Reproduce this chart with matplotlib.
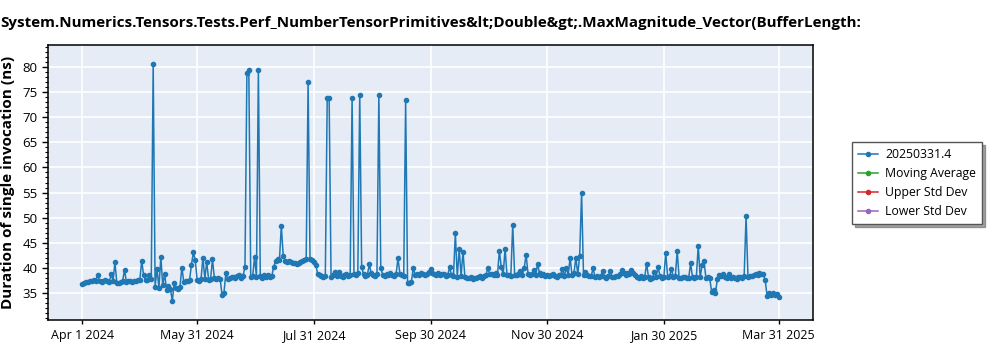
import pandas as pd
import numpy as np
import matplotlib
matplotlib.use("Agg")
import matplotlib.pyplot as plt
from matplotlib.ticker import MultipleLocator

# =====================================
# DATA (one value per day)
# =====================================

start_date = "2024-04-01"
series_label = "20250331.4"

durations = [
    36.7, 36.9, 37.1, 37.2, 37.4, 37.3, 37.5, 37.4, 38.6, 37.3,
    37.2, 37.4, 37.6, 37.3, 37.1, 38.7, 37.4, 41.1, 37.0, 36.9,
    37.1, 37.3, 39.6, 37.2, 37.4, 37.3, 37.1, 37.3, 37.4, 37.6,
    37.5, 41.4, 38.5, 37.6, 37.5, 38.6, 37.7, 80.6, 36.2, 39.8,
    36.0, 42.2, 36.5, 38.8, 35.6, 36.4, 35.8, 33.4, 37.0, 35.9,
    35.8, 36.2, 40.0, 37.2, 37.4, 37.3, 37.5, 40.6, 43.1, 41.5,
    37.6, 37.4, 37.7, 42.0, 37.8, 41.2, 37.6, 37.8, 41.7, 37.9,
    37.7, 38.0, 37.8, 34.6, 35.0, 39.0, 37.8, 37.9, 38.1, 38.2,
    37.9, 38.3, 38.5, 38.0, 38.4, 40.2, 78.8, 79.4, 38.1, 38.3,
    42.1, 38.2, 79.4, 38.4, 38.0, 38.5, 38.2, 38.6, 38.1, 38.3,
    40.2, 41.3, 41.8, 41.5, 48.4, 42.3, 41.4, 41.2, 41.3, 41.1,
    41.0, 40.9, 40.8, 41.0, 41.2, 41.4, 41.6, 41.8, 77.0, 41.7,
    41.5, 41.2, 40.6, 38.8, 38.5, 38.3, 38.1, 38.4, 73.9, 73.8,
    38.2, 38.5, 39.2, 38.3, 39.2, 38.4, 38.1, 38.5, 38.8, 38.4,
    38.6, 73.9, 38.8, 38.5, 39.0, 74.5, 40.2, 38.7, 38.4, 38.6,
    40.7, 38.9, 38.5, 38.3, 38.8, 74.4, 40.0, 38.6, 38.4, 38.7,
    38.5, 38.9, 38.6, 38.4, 38.7, 41.9, 38.8, 38.5, 38.3, 73.4,
    37.0, 36.9, 37.2, 40.0, 38.5, 38.8, 38.6, 39.0, 38.7, 38.5,
    38.8, 39.2, 39.7, 38.9, 38.7, 38.6, 38.9, 38.5, 38.8, 38.7,
    38.4, 38.6, 40.1, 38.5, 38.3, 46.9, 38.2, 43.7, 38.4, 43.2,
    38.1, 38.0, 37.9, 38.2, 37.8, 38.0, 37.9, 38.1, 38.3, 38.0,
    38.4, 38.6, 39.9, 38.7, 38.8, 38.6, 38.9, 38.5, 43.4, 40.2,
    38.7, 43.8, 38.6, 38.5, 38.4, 48.6, 38.6, 38.5, 38.7, 39.3,
    38.6, 40.0, 42.6, 38.8, 38.5, 38.7, 39.6, 38.6, 40.8, 38.9,
    38.5, 38.7, 38.4, 38.6, 38.3, 38.5, 38.8, 38.4, 38.2, 38.5,
    38.6, 39.7, 38.4, 40.0, 38.6, 42.0, 38.5, 38.9, 42.0, 38.7,
    42.4, 55.0, 38.6, 39.1, 38.5, 38.4, 38.3, 39.9, 38.2, 38.4,
    38.1, 38.3, 39.4, 38.2, 38.0, 38.3, 39.4, 38.1, 38.2, 38.4,
    38.3, 38.8, 39.6, 38.9, 38.6, 39.0, 38.7, 39.6, 39.0, 38.5,
    38.2, 38.0, 38.3, 37.9, 38.2, 40.8, 38.1, 37.8, 38.0, 39.1,
    38.2, 40.2, 38.3, 38.0, 38.1, 43.0, 38.2, 38.4, 39.7, 38.1,
    38.3, 43.3, 38.0, 37.9, 38.1, 38.2, 37.9, 38.0, 40.9, 38.1,
    38.0, 38.2, 44.4, 38.1, 40.5, 41.4, 38.0, 38.1, 37.9, 35.2,
    35.5, 35.0, 37.8, 38.6, 38.3, 38.8, 38.1, 38.0, 38.8, 37.9,
    38.1, 38.0, 37.8, 38.2, 38.1, 38.0, 38.3, 50.3, 38.2, 38.4,
    38.3, 38.5, 38.7, 38.6, 39.0, 38.8, 38.7, 37.5, 34.4, 34.9,
    34.5, 35.0, 34.6, 34.8, 34.2,
]

tick_dates = ["2024-04-01", "2024-05-31", "2024-07-31", "2024-09-30",
              "2024-11-30", "2025-01-30", "2025-03-31"]
tick_labels = ["Apr 1 2024", "May 31 2024", "Jul 31 2024", "Sep 30 2024",
               "Nov 30 2024", "Jan 30 2025", "Mar 31 2025"]

legend_labels = [series_label, "Moving Average", "Upper Std Dev", "Lower Std Dev"]
legend_colors = ["#1f77b4", "#2ca02c", "#d62728", "#9467bd"]

title = ("System.Numerics.Tensors.Tests.Perf_NumberTensorPrimitives&lt;Double&gt;"
         ".MaxMagnitude_Vector(BufferLength:")

# =====================================
# PLOT
# =====================================

plt.rcParams['font.family'] = ['Open Sans', 'DejaVu Sans']

dates = pd.date_range(start_date, periods=len(durations), freq="D")

fig = plt.figure(figsize=(10, 3.5), dpi=100)
ax = fig.add_axes([0.048, 0.0857, 0.765, 0.7857])
ax.set_facecolor("#E5ECF6")

ax.plot(dates, durations, color=legend_colors[0], lw=1.1, marker="o",
        markersize=4.5, label=legend_labels[0], zorder=3)
for lab, col in zip(legend_labels[1:], legend_colors[1:]):
    ax.plot([], [], color=col, lw=1.1, marker="o", markersize=3, label=lab)

ax.set_xlim(pd.Timestamp("2024-03-14"), pd.Timestamp("2025-04-18"))
ax.set_ylim(29.6, 84.4)

ax.set_xticks(pd.to_datetime(tick_dates))
ax.set_xticklabels(tick_labels, fontsize=9)
ax.yaxis.set_major_locator(MultipleLocator(5))
ax.yaxis.set_minor_locator(MultipleLocator(1))
ax.set_yticks(np.arange(35, 81, 5))
ax.tick_params(axis="y", labelsize=9.5, length=4, width=1)
ax.tick_params(axis="y", which="minor", length=2.5, width=0.8)
ax.tick_params(axis="x", length=3, width=1)

ax.grid(True, color="white", lw=1.2, zorder=0)
ax.set_axisbelow(True)
for sp in ax.spines.values():
    sp.set_color("black")
    sp.set_linewidth(1.1)

ax.set_ylabel("Duration of single invocation (ns)", fontsize=11,
              fontweight="bold", labelpad=5)

fig.text(0.0, 0.935, title, fontsize=10.9, fontweight="bold", ha="left",
         va="center", fontstretch="condensed")

handles, labels = ax.get_legend_handles_labels()
for h in handles:
    h.set_markersize(3)
leg = fig.legend(handles, labels, loc="upper left", bbox_to_anchor=(0.846, 0.612),
                 fontsize=8.8, frameon=True, fancybox=False, shadow=True,
                 borderpad=0.5, labelspacing=0.5, handlelength=1.6,
                 handletextpad=0.6)
leg.get_frame().set_edgecolor("#555555")

fig.savefig("out.png", dpi=100)
